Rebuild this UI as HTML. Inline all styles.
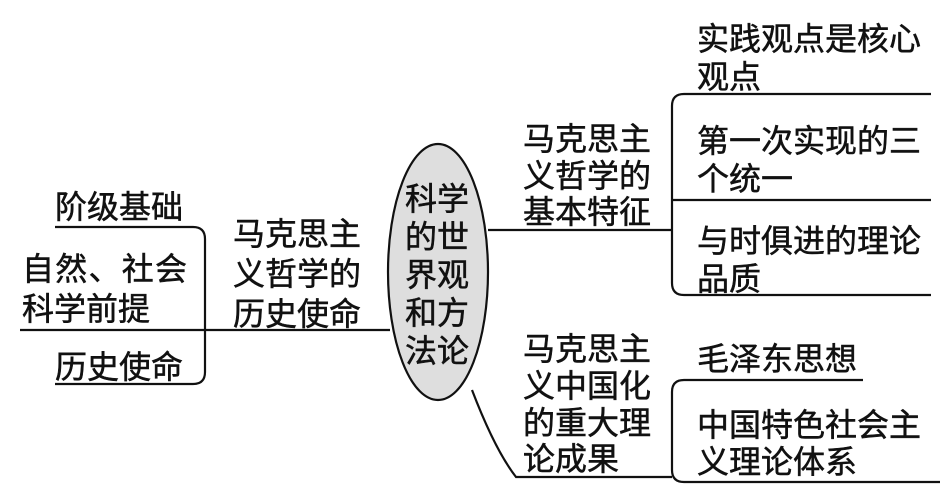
<!DOCTYPE html>
<html><head><meta charset="utf-8"><style>
html,body{margin:0;padding:0;background:#fff;}
svg text{font-family:"Liberation Sans","Noto Sans CJK SC",sans-serif;font-size:32px;fill:#111;stroke:#111;stroke-width:0.5;}
</style></head><body>
<svg width="944" height="491" viewBox="0 0 944 491" xmlns="http://www.w3.org/2000/svg">
<g fill="none" stroke="#111" stroke-width="2.2">
<path d="M55 227 H193 Q205 227 205 239 V372 Q205 384 193 384 H55"/>
<path d="M20 330 H390"/>
<ellipse cx="438" cy="272" rx="50" ry="128" fill="#dedede"/>
<path d="M488 230 H672"/>
<path d="M931 94 H684 Q672 94 672 106 V283 Q672 295 684 295 H931"/>
<path d="M672 200 H931"/>
<path d="M472 390 Q495 450 516 477 H672"/>
<path d="M863 380 H684 Q672 380 672 392 V470 Q672 482 684 482 H940"/>
</g>
<text x="55" y="218">阶级基础</text>
<text x="22" y="280" textLength="165">自然、社会</text>
<text x="22" y="320">科学前提</text>
<text x="55" y="378">历史使命</text>
<text x="233" y="245">马克思主</text>
<text x="233" y="285">义哲学的</text>
<text x="233" y="325">历史使命</text>
<text x="405" y="210">科学</text>
<text x="405" y="248">的世</text>
<text x="405" y="286">界观</text>
<text x="405" y="324">和方</text>
<text x="405" y="362">法论</text>
<text x="523" y="150">马克思主</text>
<text x="523" y="187">义哲学的</text>
<text x="523" y="223">基本特征</text>
<text x="697" y="50">实践观点是核心</text>
<text x="697" y="88">观点</text>
<text x="697" y="152">第一次实现的三</text>
<text x="697" y="190">个统一</text>
<text x="697" y="252">与时俱进的理论</text>
<text x="697" y="290">品质</text>
<text x="523" y="360">马克思主</text>
<text x="523" y="397">义中国化</text>
<text x="523" y="434">的重大理</text>
<text x="523" y="470">论成果</text>
<text x="697" y="370">毛泽东思想</text>
<text x="697" y="436">中国特色社会主</text>
<text x="697" y="473">义理论体系</text>
</svg>
</body></html>
